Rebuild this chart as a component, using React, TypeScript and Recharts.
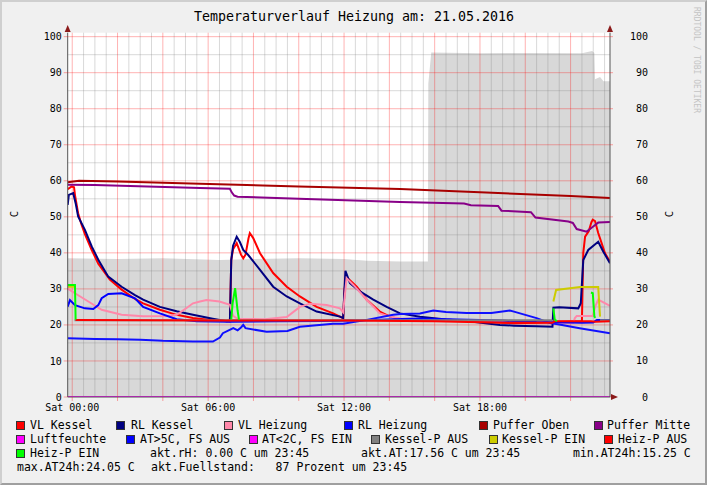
import React from "react";
import {
  ComposedChart,
  Line,
  Area,
  XAxis,
  YAxis,
  ReferenceLine,
} from "recharts";

type Pt = [number, number | null];

// Stunden ab Mitternacht, Werte in C
const vlKessel: Pt[] = [
  [-0.2, 57.7], [-0.03, 58.4], [0.08, 58.2], [0.12, 56.1], [0.26, 51], [0.4, 48],
  [0.56, 45.2], [0.86, 40.8], [1.15, 37], [1.66, 32.6], [2.18, 29.8], [2.77, 27.2],
  [3.13, 26], [3.87, 24.2], [4.61, 22.8], [5.33, 21.9], [6.2, 21.3], [6.96, 21],
  [7.02, 38], [7.1, 41], [7.26, 42.7], [7.45, 39.5], [7.55, 38.5], [7.65, 39.5],
  [7.78, 44], [7.84, 45.5], [7.99, 44.1], [8.29, 39.9], [8.87, 34.4], [9.47, 30.6],
  [10.05, 27.9], [10.79, 25], [11.52, 23.2], [11.96, 21.9], [12.02, 30], [12.08, 32.5],
  [12.18, 32.9], [12.56, 30.6], [13.0, 27], [13.58, 23.7], [14.03, 22.3], [14.47, 21.6],
  [15.5, 21.3], [17, 21.1], [18.5, 20.8], [19.5, 20.5], [20.5, 20.6], [21.2, 20.8],
  [22.5, 21], [22.56, 40], [22.64, 44.5], [22.8, 46], [22.92, 48.5], [22.98, 49.2],
  [23.08, 48.8], [23.22, 45.5], [23.37, 42.7], [23.52, 39.9], [23.74, 37.5],
];

const rlKessel: Pt[] = [
  [-0.2, 53.3], [-0.15, 56.1], [0.04, 56.6], [0.15, 53.8], [0.26, 50.1], [0.56, 46.4],
  [0.86, 41.8], [1.15, 38.1], [1.59, 33.4], [2.18, 30.6], [2.77, 28.3], [3.13, 27],
  [3.87, 25], [4.61, 23.8], [5.33, 22.8], [6.2, 21.7], [6.82, 21], [6.96, 21.2],
  [7.02, 38], [7.1, 42], [7.26, 44.5], [7.4, 43], [7.55, 40.8], [7.77, 39.4],
  [8.29, 35.3], [8.87, 30.6], [9.47, 27.9], [10.05, 26], [10.79, 23.7], [11.82, 22.3],
  [11.96, 21.9], [12.02, 30], [12.06, 35], [12.26, 31.6], [12.7, 29.3], [13.29, 27],
  [13.88, 25], [14.47, 23.2], [15.35, 22.3], [16.5, 21.5], [17.5, 21], [18.88, 20],
  [19.5, 19.8], [20.5, 19.6], [21.2, 19.5], [21.24, 24.8], [21.5, 24.9], [22.34, 24.6],
  [22.45, 26], [22.56, 38], [22.78, 40.8], [23.22, 43.1], [23.44, 40.4], [23.74, 37.1],
];

const vlHeizung: Pt[] = [
  [-0.2, 30.1], [0.12, 28.8], [0.71, 26.5], [1.3, 24.2], [2.18, 22.8], [3.13, 22.4],
  [4.2, 22.5], [4.61, 22.8], [5.0, 24.5], [5.33, 26], [5.64, 26.5], [5.93, 26.9],
  [6.5, 26.5], [6.96, 25.6], [7.1, 22.5], [7.3, 21.7], [8.5, 21.6], [9.47, 22.2],
  [10.05, 25], [10.49, 25.9], [11.23, 25.5], [11.82, 24.6], [11.96, 23.5], [12.11, 33],
  [12.41, 31.1], [13.0, 27], [13.58, 23.2], [14.03, 22.3], [14.5, 21.8], [16, 21.5],
  [18, 21.2], [20, 21], [21.2, 21], [21.3, 20.6], [22.12, 20.6], [22.19, 21.9],
  [22.27, 22.5], [22.98, 22.5], [23.08, 25], [23.22, 27], [23.74, 25.3],
];

const rlHeizung: Pt[] = [
  [-0.2, 25.1], [-0.1, 26.9], [0.12, 25.5], [0.56, 24.6], [0.93, 24.4], [1.15, 25.5],
  [1.3, 27.4], [1.59, 28.6], [2.18, 28.8], [2.77, 27.4], [3.13, 25], [3.87, 23.2],
  [4.61, 21.6], [5.5, 21], [7, 20.9], [9, 21], [11, 21.1], [13, 21.3], [14.2, 21.6],
  [15.35, 21.8], [17, 21.5], [19, 21.2], [20.5, 20.8], [22.5, 20.6], [23.0, 20.7],
  [23.16, 21.4], [23.74, 21.4],
];

const pufferOben: Pt[] = [
  [-0.2, 59.6], [0.3, 60], [2, 59.8], [5.64, 59.2], [10, 58.4], [14.47, 57.7],
  [18, 56.8], [22, 55.8], [23.74, 55.2],
];

const pufferMitte: Pt[] = [
  [-0.2, 58.9], [1, 58.8], [5.64, 58], [6.96, 57.8], [7.04, 56.8], [7.15, 55.9],
  [7.3, 55.6], [10, 55], [14.47, 54.1], [17.3, 53.7], [17.6, 53.2], [18.8, 53.0],
  [18.95, 51.7], [20.25, 51.3], [20.45, 49.8], [21.9, 48.7], [22.1, 48.3], [22.27, 46.6],
  [22.71, 45.9], [23.0, 47.3], [23.22, 48.4], [23.74, 48.6],
];

const fuellstand: Pt[] = [
  [-0.2, 38.5], [2, 38.3], [4, 38.5], [6.5, 38], [8, 38.3], [10, 38.5], [12, 38.3],
  [13, 37.8], [14.5, 37.6], [15.7, 37.6], [15.72, 87], [15.85, 95.6], [18, 95.4],
  [20, 95.5], [22.5, 95.4], [22.95, 96], [23.05, 95.5], [23.08, 88.2], [23.3, 88.8],
  [23.45, 87.6], [23.74, 87.6],
];

const luftfeuchte: Pt[] = [[-0.2, 0], [23.74, 0]];

const aussen: Pt[] = [
  [-0.2, 16.3], [1, 16.1], [2, 16], [3, 15.9], [4, 15.6], [5.33, 15.4], [6.21, 15.4],
  [6.52, 16.5], [6.65, 17.7], [7.11, 19.1], [7.3, 18.5], [7.45, 19.3], [7.55, 20],
  [7.65, 19.1], [8.58, 18.1], [9.5, 18.3], [10.05, 19.5], [11.52, 20.3], [11.96, 20.3],
  [13.0, 21.4], [14.17, 22.8], [14.5, 23], [15.35, 23.2], [15.94, 24], [16.5, 23.6],
  [17.41, 23.3], [18.5, 23.3], [19.32, 24], [19.5, 23.7], [20.5, 21.9], [21.1, 20.5],
  [21.5, 20.1], [22.4, 19.1], [23.74, 17.7],
];

const kesselAus: Pt[] = [
  [0.1, 21.3], [21.2, 21.3], [21.22, null], [23.3, 21.3], [23.74, 21.3],
];

const kesselEin: Pt[] = [
  [-0.2, 30.6], [0.1, 30.6], [0.11, null], [21.24, 26.5], [21.36, 29.7],
  [22.42, 30.5], [23.22, 30.5], [23.3, 22.3],
];

const heizAus: Pt[] = [
  [0.15, 21.4], [6, 21.2], [12, 21.2], [16, 21], [19, 20.6], [21.2, 20.6],
  [21.3, 21.0], [22.9, 21.0], [23.1, 20.9], [23.74, 21],
];

const heizEin: Pt[] = [
  [-0.2, 31.1], [0.12, 31.1], [0.15, 21.5], [0.16, null], [7.02, 21.5], [7.08, 26],
  [7.19, 30.2], [7.3, 24], [7.36, 21.5], [7.37, null], [21.24, 24.6], [21.3, 21.5],
  [21.4, 21], [21.41, null], [22.9, 29], [22.98, 28.8], [23.05, 22.3], [23.1, 22],
];

const yTicks = [0, 10, 20, 30, 40, 50, 60, 70, 80, 90, 100];
const yMinor = [5, 15, 25, 35, 45, 55, 65, 75, 85, 95];
const xMajor = [0, 2, 4, 6, 8, 10, 12, 14, 16, 18, 20, 22];
const xMinor = Array.from({ length: 48 }, (_, i) => i * 0.5).filter((h) => h % 2 !== 0);
const xLabels: Record<number, string> = { 0: "Sat 00:00", 6: "Sat 06:00", 12: "Sat 12:00", 18: "Sat 18:00" };

const legendRows = [
  [
    { name: "VL Kessel", color: "#FF0000", box: 16, text: 30 },
    { name: "RL Kessel", color: "#000080", box: 116, text: 131 },
    { name: "VL Heizung", color: "#FF88AA", box: 224, text: 238 },
    { name: "RL Heizung", color: "#0000FF", box: 344, text: 358 },
    { name: "Puffer Oben", color: "#A80000", box: 479, text: 493 },
    { name: "Puffer Mitte", color: "#880088", box: 594, text: 607 },
  ],
  [
    { name: "Luftfeuchte", color: "#FF00FF", box: 16, text: 30 },
    { name: "AT>5C, FS AUS", color: "#0000FF", box: 126, text: 140 },
    { name: "AT<2C, FS EIN", color: "#FF00FF", box: 249, text: 262 },
    { name: "Kessel-P AUS", color: "#808080", box: 371, text: 385 },
    { name: "Kessel-P EIN", color: "#CCCC00", box: 489, text: 502 },
    { name: "Heiz-P AUS", color: "#FF0000", box: 604, text: 618 },
  ],
  [{ name: "Heiz-P EIN", color: "#00FF00", box: 16, text: 30 }],
];

const infoTexts = [
  { text: "akt.rH: 0.00 C um 23:45", x: 150, row: 2 },
  { text: "akt.AT:17.56 C um 23:45", x: 361, row: 2 },
  { text: "min.AT24h:15.25 C", x: 573, row: 2 },
  { text: "max.AT24h:24.05 C", x: 17, row: 3 },
  { text: "akt.Fuellstand:   87 Prozent um 23:45", x: 151, row: 3 },
];

const toData = (pts: Pt[]) => pts.map(([h, v]) => ({ h, v }));

const mono = "'DejaVu Sans Mono', monospace";

function RightTick(props: any) {
  const { y, payload } = props;
  return (
    <text x={648} y={y} dy="0.35em" textAnchor="end" fontSize={10} fontFamily={mono} fill="#000">
      {payload.value}
    </text>
  );
}

export default function App() {
  const series = [
    { d: vlKessel, c: "#FF0000" },
    { d: rlKessel, c: "#000080" },
    { d: vlHeizung, c: "#FF88AA" },
    { d: rlHeizung, c: "#0000FF" },
    { d: pufferOben, c: "#A80000" },
    { d: pufferMitte, c: "#880088" },
    { d: luftfeuchte, c: "#FF00FF" },
    { d: aussen, c: "#1010FF" },
    { d: kesselAus, c: "#808080" },
    { d: kesselEin, c: "#CCCC00" },
    { d: heizAus, c: "#FF0000" },
    { d: heizEin, c: "#00FF00" },
  ];

  return (
    <div
      style={{
        position: "absolute",
        left: 0,
        top: 0,
        width: 707,
        height: 485,
        boxSizing: "border-box",
        background: "#f0f0f0",
        borderTop: "2px solid #cfcfcf",
        borderLeft: "2px solid #cfcfcf",
        borderRight: "2px solid #9f9f9f",
        borderBottom: "2px solid #9f9f9f",
        fontFamily: mono,
        overflow: "hidden",
      }}
    >
      <div style={{ position: "absolute", left: -2, top: -2 }}>
        <ComposedChart
          width={707}
          height={485}
          margin={{ top: 32.7, right: 37, bottom: 58, left: 7.7 }}
          style={{ background: "transparent" }}
        >
          <rect x={67.7} y={32.7} width={542.3} height={364.3} fill="#ffffff" />
          <XAxis
            dataKey="h"
            type="number"
            domain={[-0.2, 23.74]}
            allowDataOverflow
            ticks={xMajor}
            interval={0}
            height={30}
            tickSize={4}
            tickMargin={3}
            tickFormatter={(h: number) => xLabels[h] ?? ""}
            tick={{ fontSize: 10, fontFamily: mono, fill: "#000" }}
            tickLine={{ stroke: "#ff0000", strokeOpacity: 0.35 }}
            axisLine={{ stroke: "#555" }}
          />
          <YAxis
            yAxisId="l"
            type="number"
            domain={[0, 101.1]}
            allowDataOverflow
            ticks={yTicks}
            interval={0}
            width={60}
            tickSize={4}
            tickMargin={2}
            tick={{ fontSize: 10, fontFamily: mono, fill: "#000" }}
            tickLine={{ stroke: "#ff0000", strokeOpacity: 0.35 }}
            axisLine={{ stroke: "#555" }}
          />
          <YAxis
            yAxisId="r"
            orientation="right"
            type="number"
            domain={[0, 101.1]}
            allowDataOverflow
            ticks={yTicks}
            interval={0}
            width={60}
            tickSize={3}
            tick={RightTick}
            tickLine={{ stroke: "#ff0000", strokeOpacity: 0.35 }}
            axisLine={{ stroke: "#555" }}
          />
          <Area
            yAxisId="l"
            data={toData(fuellstand)}
            dataKey="v"
            type="linear"
            stroke="none"
            fill="#d8d8d8"
            fillOpacity={1}
            baseValue={0}
            isAnimationActive={false}
          />
          {yMinor.map((v) => (
            <ReferenceLine key={"ym" + v} yAxisId="l" y={v} stroke="#808080" strokeOpacity={0.3} />
          ))}
          {xMinor.map((h) => (
            <ReferenceLine key={"xm" + h} yAxisId="l" x={h} stroke="#808080" strokeOpacity={0.3} />
          ))}
          {yTicks.slice(1).map((v) => (
            <ReferenceLine key={"yM" + v} yAxisId="l" y={v} stroke="#ff0000" strokeOpacity={0.3} />
          ))}
          {xMajor.map((h) => (
            <ReferenceLine key={"xM" + h} yAxisId="l" x={h} stroke="#ff0000" strokeOpacity={0.3} />
          ))}
          {series.map((s, i) => (
            <Line
              key={i}
              yAxisId="l"
              data={toData(s.d)}
              dataKey="v"
              type="linear"
              stroke={s.c}
              strokeWidth={2}
              dot={false}
              activeDot={false}
              connectNulls={false}
              isAnimationActive={false}
            />
          ))}
        </ComposedChart>
      </div>

      <svg
        width={707}
        height={485}
        style={{ position: "absolute", left: -2, top: -2, pointerEvents: "none" }}
      >
        <text x={354} y={21} textAnchor="middle" fontSize={13.3} fontFamily={mono} fill="#000">
          Temperaturverlauf Heizung am: 21.05.2016
        </text>
        <text x={18} y={214} textAnchor="middle" fontSize={10.5} fontFamily={mono} fill="#000" transform="rotate(-90 18 214)">
          C
        </text>
        <text x={673} y={214} textAnchor="middle" fontSize={10.5} fontFamily={mono} fill="#000" transform="rotate(-90 673 214)">
          C
        </text>
        <text x={694} y={7} fontSize={8} fontFamily={mono} fill="#c4c4c4" transform="rotate(90 694 7)">
          RRDTOOL / TOBI OETIKER
        </text>
        <polygon points="67.7,25 64.7,32 70.7,32" fill="#8b1a1a" />
        <polygon points="610,25 607,32 613,32" fill="#8b1a1a" />
        <polygon points="618,397 611,394 611,400" fill="#8b1a1a" />
      </svg>

      {legendRows.map((row, r) =>
        row.map((it) => (
          <React.Fragment key={it.name}>
            <div
              style={{
                position: "absolute",
                left: it.box - 2,
                top: 421 + r * 14 - 2,
                width: 9,
                height: 9,
                boxSizing: "border-box",
                background: it.color,
                border: "1px solid #333",
              }}
            />
            <div
              style={{
                position: "absolute",
                left: it.text - 2,
                top: 418 + r * 14 - 2,
                fontSize: 11.5,
                lineHeight: "15px",
                whiteSpace: "pre",
                color: "#000",
              }}
            >
              {it.name}
            </div>
          </React.Fragment>
        ))
      )}
      {infoTexts.map((t) => (
        <div
          key={t.text}
          style={{
            position: "absolute",
            left: t.x - 2,
            top: 418 + t.row * 14 - 2,
            fontSize: 11.5,
            lineHeight: "15px",
            whiteSpace: "pre",
            color: "#000",
          }}
        >
          {t.text}
        </div>
      ))}
    </div>
  );
}
